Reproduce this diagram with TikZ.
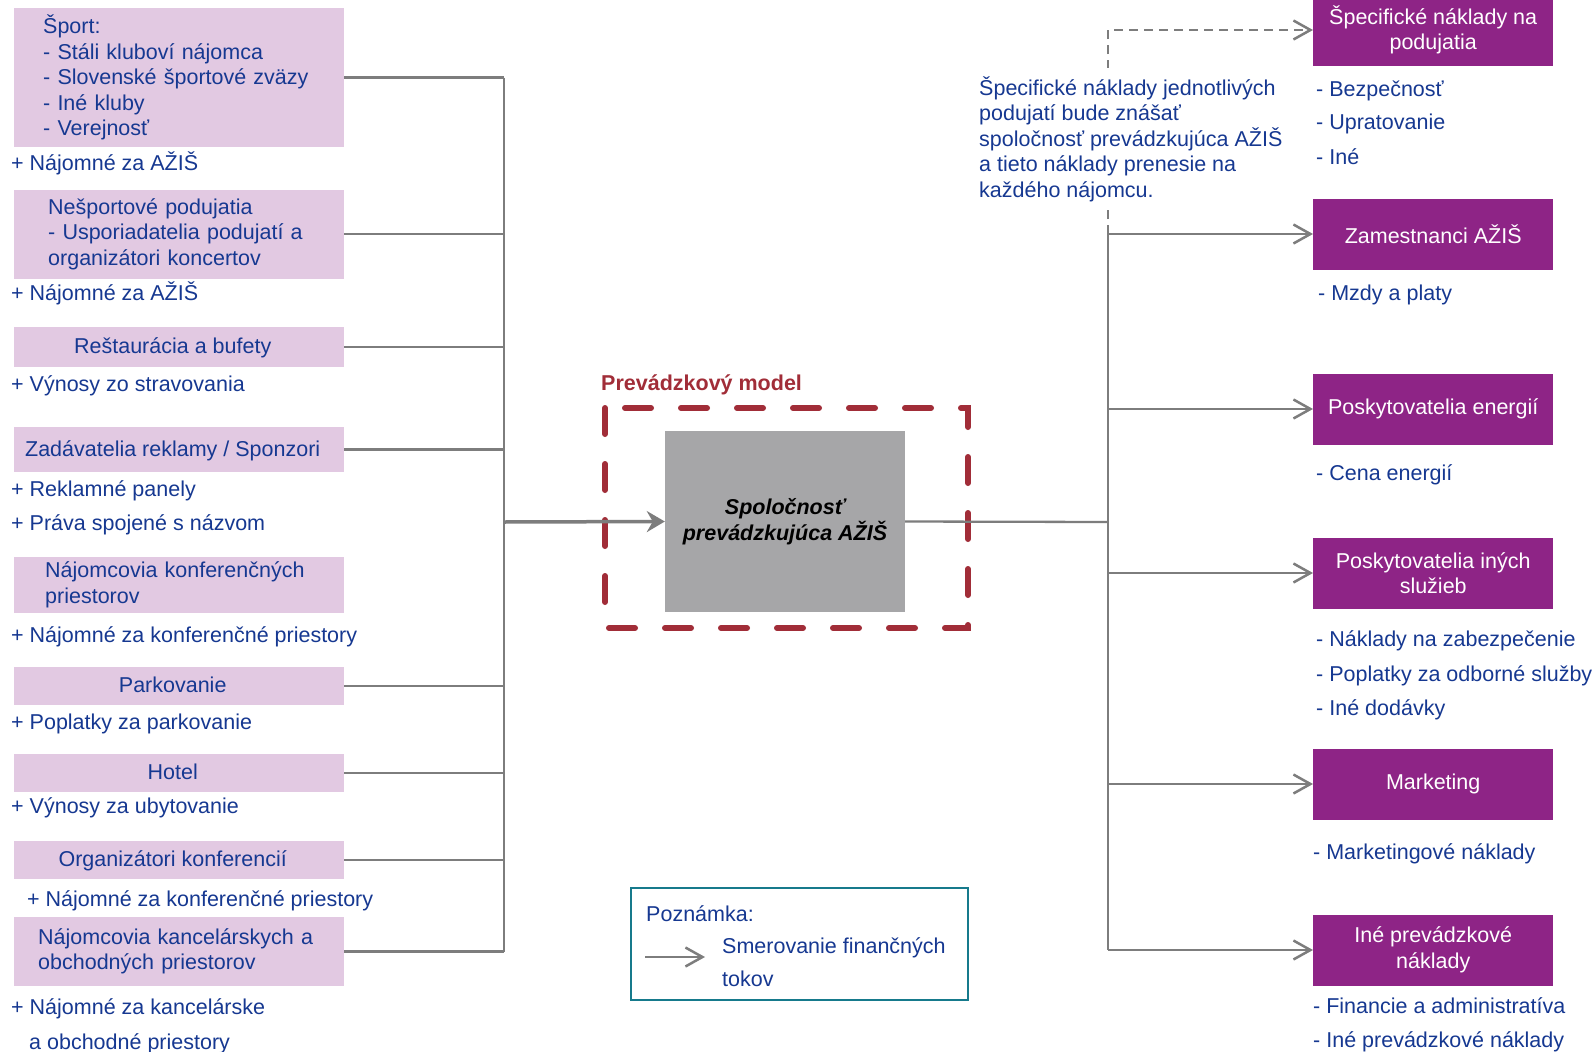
\documentclass[tikz,border=0pt]{standalone}
\usepackage{fontspec}
\setmainfont{Liberation Sans}
\usetikzlibrary{positioning,arrows.meta}

\definecolor{azisblue}{RGB}{22,56,145}
\definecolor{srcpink}{RGB}{226,201,226}
\definecolor{costpurple}{RGB}{142,36,134}
\definecolor{firmgray}{RGB}{166,166,168}
\definecolor{flowgray}{RGB}{125,125,125}
\definecolor{modelred}{RGB}{161,45,56}
\definecolor{noteteal}{RGB}{22,122,140}

\tikzset{
  lbl/.style={font=\fontsize{21.5}{25.5}\selectfont, text=azisblue, inner sep=0pt},
  txt/.style={lbl, anchor=base west, yshift=-7.5pt},
  src/.style={lbl, fill=srcpink, minimum width=330pt, align=center, anchor=west},
  % one-line source box, label set a little left of centre
  srcline/.style={src, align=flush center, text width=330pt, text height=17pt, text depth=4pt,
    execute at end node={\hspace*{13pt}}},
  cost/.style={font=\fontsize{21.5}{25.5}\selectfont, text=white, fill=costpurple,
    minimum width=240pt, minimum height=71pt, inner sep=0pt, align=center, anchor=west},
  firm/.style={font=\fontsize{21.5}{25.5}\selectfont\bfseries\itshape, fill=firmgray,
    minimum width=240pt, minimum height=181pt, inner sep=0pt, align=center},
  flow/.style={draw=flowgray, line width=2.3pt},
  tip/.style={-{Straight Barb[length=17pt,width=19pt,line width=2.5pt]}},
  mainflow/.style={draw=flowgray, line width=3.5pt, -{Stealth[length=18pt,width=21pt,inset=6pt]}},
  model/.style={draw=modelred, line width=6pt, line cap=round, dash pattern=on 26pt off 30pt}
}

\begin{document}
\begin{tikzpicture}[x=1pt,y=-1pt]
\path[use as bounding box, fill=white] (0,0) rectangle (1596,1052);

% sources of income (left column)
\node[src, align=left, inner xsep=29pt, text width=272pt, minimum height=139pt] (sport) at (14,77.5)
  {Šport:\\- Stáli kluboví nájomca\\- Slovenské športové zväzy\\- Iné kluby\\- Verejnosť};
\node[txt] (sport-inc) at (11,163) {+ Nájomné za AŽIŠ};

\node[src, align=left, inner xsep=34pt, text width=262pt, minimum height=89pt] (nesport) at (14,234)
  {Nešportové podujatia\\ - Usporiadatelia podujatí a\\organizátori koncertov};
\node[txt] (nesport-inc) at (11,293) {+ Nájomné za AŽIŠ};

\node[srcline, minimum height=40pt] (rest) at (14,347) {Reštaurácia a bufety};
\node[txt] (rest-inc) at (11,384) {+ Výnosy zo stravovania};

\node[srcline, minimum height=45pt] (rekl) at (14,449.5) {Zadávatelia reklamy / Sponzori};
\node[txt] (rekl-inc1) at (11,489) {+ Reklamné panely};
\node[txt] (rekl-inc2) at (11,523) {+ Práva spojené s názvom};

\node[src, align=left, inner xsep=31pt, text width=268pt, minimum height=56pt] (konf) at (14,585)
  {Nájomcovia konferenčných\\priestorov};
\node[txt] (konf-inc) at (11,635) {+ Nájomné za konferenčné priestory};

\node[srcline, minimum height=38pt] (park) at (14,686) {Parkovanie};
\node[txt] (park-inc) at (11,722) {+ Poplatky za parkovanie};

\node[srcline, minimum height=38pt] (hotel) at (14,773) {Hotel};
\node[txt] (hotel-inc) at (11,806) {+ Výnosy za ubytovanie};

\node[srcline, minimum height=38pt] (org) at (14,860) {Organizátori konferencií};
\node[txt] (org-inc) at (27,899) {+ Nájomné za konferenčné priestory};

\node[src, align=left, inner xsep=24pt, text width=282pt, minimum height=69pt] (kanc) at (14,951.5)
  {Nájomcovia kancelárskych a\\obchodných priestorov};
\node[txt] (kanc-inc1) at (11,1007) {+ Nájomné za kancelárske};
\node[txt] (kanc-inc2) at (29,1042) {a obchodné priestory};

% operator in the middle
\node[txt, font=\fontsize{21.5}{25.5}\selectfont\bfseries, text=modelred] (modeltitle) at (601,383) {Prevádzkový model};
\draw[model] (605,408) rectangle (968,628);
\node[firm] (firma) at (785,521.5) {Spoločnosť\\prevádzkujúca AŽIŠ};

% cost items (right column)
\node[cost] (spec) at (1313,30) {Špecifické náklady na\\podujatia};
\node[txt] (spec-1) at (1316,88.5) {- Bezpečnosť};
\node[txt] (spec-2) at (1316,122) {- Upratovanie};
\node[txt] (spec-3) at (1316,157) {- Iné};

\node[cost] (zam) at (1313,234) {Zamestnanci AŽIŠ};
\node[txt] (zam-1) at (1318,293) {- Mzdy a platy};

\node[cost] (energ) at (1313,409) {Poskytovatelia energií};
\node[txt] (energ-1) at (1316,473) {- Cena energií};

\node[cost] (sluzby) at (1313,573) {Poskytovatelia iných\\služieb};
\node[txt] (sluzby-1) at (1316,639) {- Náklady na zabezpečenie};
\node[txt] (sluzby-2) at (1316,674) {- Poplatky za odborné služby};
\node[txt] (sluzby-3) at (1316,708) {- Iné dodávky};

\node[cost] (mkt) at (1313,784) {Marketing};
\node[txt] (mkt-1) at (1313,852) {- Marketingové náklady};

\node[cost] (ineprev) at (1313,950) {Iné prevádzkové\\náklady};
\node[txt] (ineprev-1) at (1313,1006) {- Financie a administratíva};
\node[txt] (ineprev-2) at (1313,1040) {- Iné prevádzkové náklady};

% buses
\coordinate (busL) at (504,522);
\coordinate (busR) at (1108,522);

\foreach \s in {sport,nesport,rest,rekl,park,hotel,org,kanc}
  \draw[flow] (\s.east) -- (\s.east -| busL);
\draw[flow] (sport.east -| busL) -- (kanc.east -| busL);
\draw[mainflow] (busL) -- (firma.west);

\draw[flow] (firma.east) -- (busR);
\draw[flow] (zam.west -| busR) -- (ineprev.west -| busR);
\foreach \c in {zam,energ,sluzby,mkt,ineprev}
  \draw[flow, tip] (\c.west -| busR) -- (\c.west);
\draw[flow, tip, dash pattern=on 9pt off 6pt] (zam.west -| busR) -- (spec.west -| busR) -- (spec.west);

% remark over the dashed link
\node[lbl, anchor=west, fill=white, align=left, inner xsep=4pt, inner ysep=8pt] (specnote) at (975,139)
  {Špecifické náklady jednotlivých\\podujatí bude znášať\\spoločnosť prevádzkujúca AŽIŠ\\a tieto náklady prenesie na\\každého nájomcu.};

% legend
\node[draw=noteteal, line width=2.5pt, minimum width=337pt, minimum height=112pt] (note) at (799.5,944) {};
\node[txt] (note-title) at (646,914) {Poznámka:};
\node[lbl, anchor=west, font=\fontsize{21.5}{33}\selectfont, align=left] (note-text) at (722,962.5) {Smerovanie finančných\\tokov};
\coordinate (legA) at (645,957);
\coordinate (legB) at (705,957);
\draw[flow, tip] (legA) -- (legB);
\end{tikzpicture}
\end{document}
